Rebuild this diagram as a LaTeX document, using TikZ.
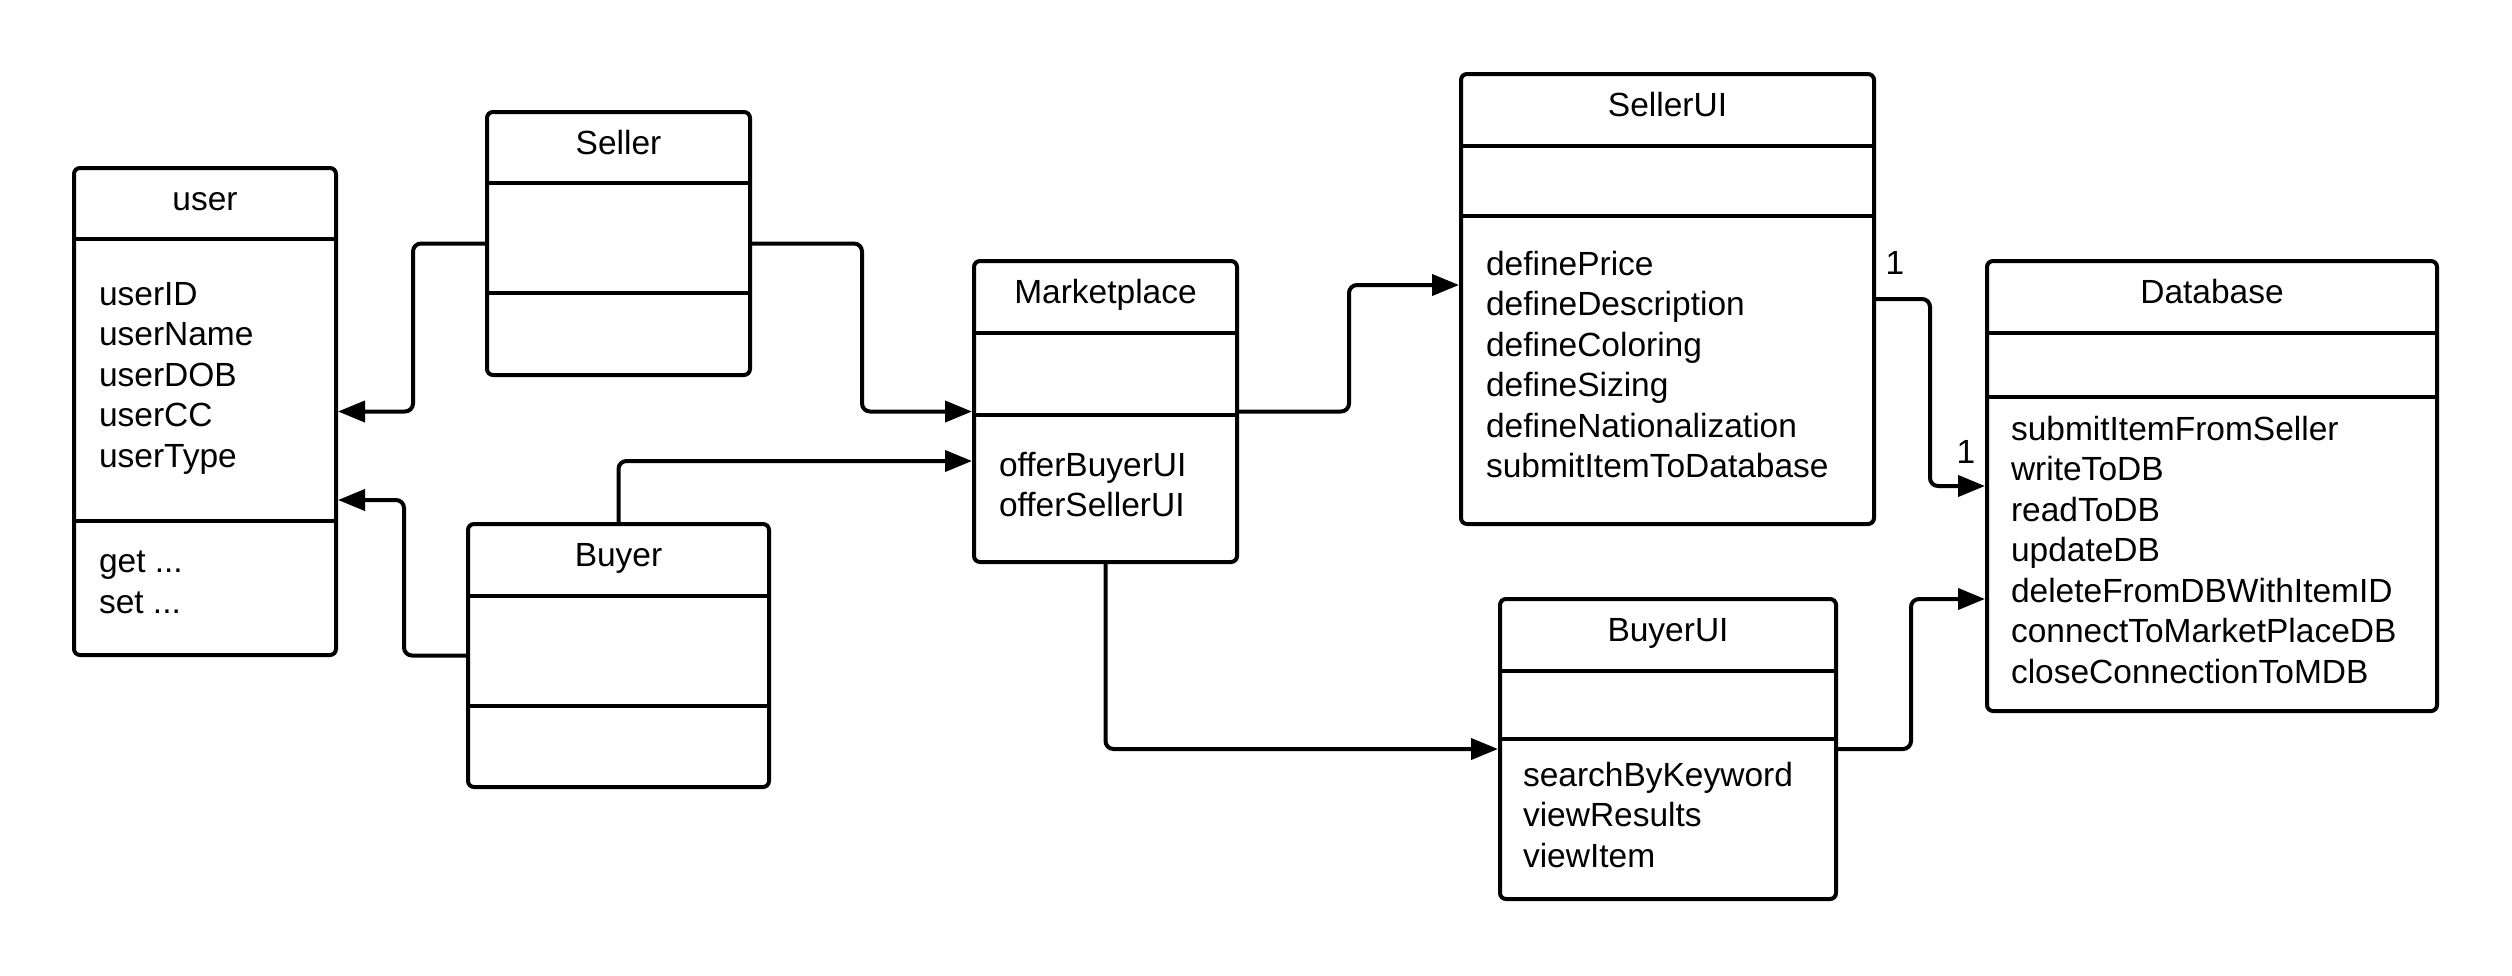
\documentclass[tikz,border=0pt]{standalone}
\usepackage{fontspec}
\setmainfont{Liberation Sans}
\usetikzlibrary{arrows.meta}

\begin{document}
\begin{tikzpicture}[x=1pt, y=-1pt, line width=4pt,
  classbox/.style={draw, rounded corners=6pt, inner sep=0pt},
  title/.style={font=\fontsize{33.5}{40.5}\selectfont, text height=24pt, text depth=7pt, inner sep=0pt},
  members/.style={font=\fontsize{33.5}{40.5}\selectfont, align=left, anchor=north west, inner sep=0pt},
  conn/.style={rounded corners=8pt, -{Triangle[length=27pt,width=21pt]}}]
\useasboundingbox (0, 0) rectangle (2512, 975);

% user
\node [classbox, minimum width=262pt, minimum height=487pt] (user) at (205, 411.5) {};
\draw (user.west |- 0, 239) -- (user.east |- 0, 239);
\draw (user.west |- 0, 521) -- (user.east |- 0, 521);
\node [title] (user-name) at (205, 201.5) {user};
\node [members] (user-attr) at (97, 280) {userID\\userName\\userDOB\\userCC\\userType};
\node [members] (user-ops) at (97, 549) {get ...\\set ...};

% Seller
\node [classbox, minimum width=263pt, minimum height=263pt] (seller) at (618.5, 243.5) {};
\draw (seller.west |- 0, 183) -- (seller.east |- 0, 183);
\draw (seller.west |- 0, 293) -- (seller.east |- 0, 293);
\node [title] (seller-name) at (618.5, 145.5) {Seller};

% Buyer
\node [classbox, minimum width=301pt, minimum height=263pt] (buyer) at (618.5, 655.5) {};
\draw (buyer.west |- 0, 596) -- (buyer.east |- 0, 596);
\draw (buyer.west |- 0, 706) -- (buyer.east |- 0, 706);
\node [title] (buyer-name) at (618.5, 558) {Buyer};

% Marketplace
\node [classbox, minimum width=263pt, minimum height=301pt] (market) at (1105.5, 411.5) {};
\draw (market.west |- 0, 333) -- (market.east |- 0, 333);
\draw (market.west |- 0, 415) -- (market.east |- 0, 415);
\node [title] (market-name) at (1105.5, 295) {Marketplace};
\node [members] (market-ops) at (997, 450) {offerBuyerUI\\offerSellerUI};

% SellerUI
\node [classbox, minimum width=413pt, minimum height=450pt] (sellerui) at (1667.5, 299) {};
\draw (sellerui.west |- 0, 146) -- (sellerui.east |- 0, 146);
\draw (sellerui.west |- 0, 216) -- (sellerui.east |- 0, 216);
\node [title] (sellerui-name) at (1667.5, 108) {SellerUI};
\node [members] (sellerui-ops) at (1484, 249) {definePrice\\defineDescription\\defineColoring\\defineSizing\\defineNationalization\\submitItemToDatabase};

% BuyerUI
\node [classbox, minimum width=336pt, minimum height=300pt] (buyerui) at (1668, 749) {};
\draw (buyerui.west |- 0, 671) -- (buyerui.east |- 0, 671);
\draw (buyerui.west |- 0, 739) -- (buyerui.east |- 0, 739);
\node [title] (buyerui-name) at (1668, 633) {BuyerUI};
\node [members] (buyerui-ops) at (1521, 760) {searchByKeyword\\viewResults\\viewItem};

% Database
\node [classbox, minimum width=450pt, minimum height=450pt] (database) at (2212, 486) {};
\draw (database.west |- 0, 333) -- (database.east |- 0, 333);
\draw (database.west |- 0, 397) -- (database.east |- 0, 397);
\node [title] (database-name) at (2212, 295) {Database};
\node [members] (database-ops) at (2009, 414) {submitItemFromSeller\\writeToDB\\readToDB\\updateDB\\deleteFromDBWithItemID\\connectToMarketPlaceDB\\closeConnectionToMDB};

% connectors
\draw [conn] (seller.west) -- ++(-72, 0) |- (user.east);
\draw [conn] (buyer.west) -- ++(-62, 0) |- ([yshift=-88.5pt]user.east);
\draw [conn] (seller.east) -- ++(110, 0) |- (market.west);
\draw [conn] (buyer.north) |- ([yshift=-49.5pt]market.west);
\draw [conn] (market.east) -- ++(110, 0) |- ([yshift=14pt]sellerui.west);
\draw [conn] (market.south) |- (buyerui.west);
\draw [conn] (sellerui.east) -- ++(54, 0) |- (database.west);
\draw [conn] (buyerui.east) -- ++(73, 0) |- ([yshift=-113pt]database.west);
\node [title] (mult-a) at (1895, 266) {1};
\node [title] (mult-b) at (1966, 455) {1};
\end{tikzpicture}
\end{document}
